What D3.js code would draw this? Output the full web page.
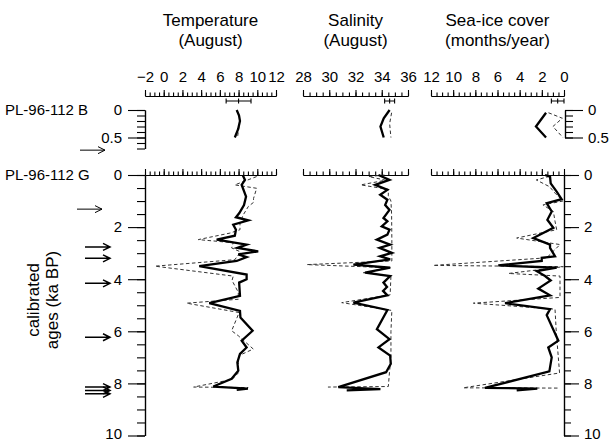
<!DOCTYPE html>
<html>
<head>
<meta charset="utf-8">
<script src="https://cdn.jsdelivr.net/npm/d3@7"></script>
<style>
  body { margin: 0; background: #fff; }
  text { font-family: "Liberation Sans", Arial, Helvetica, sans-serif; fill: #000; }
</style>
</head>
<body>
<script>
var W = 610, H = 443;

// column headings
var titleTop = ["Temperature", "Salinity", "Sea-ice cover"];
var titleSub = ["(August)", "(August)", "(months/year)"];
var tempTicks = [-2, 0, 2, 4, 6, 8, 10, 12];
var salTicks = [28, 30, 32, 34, 36];
var iceTicks = [12, 10, 8, 6, 4, 2, 0];

// PL-96-112 B (box core)
var boxTempAge = [0, 0.1, 0.2, 0.35, 0.5];
var boxTemp = [7.8, 8.05, 8.15, 7.95, 7.6];
var boxTempDashAge = [0.3, 0.48];
var boxTempDash = [8.05, 7.9];
var boxSalAge = [0, 0.15, 0.3, 0.5];
var boxSal = [34.6, 34.15, 33.9, 34.15];
var boxSalDashAge = [0.05, 0.25, 0.5];
var boxSalDash = [34.75, 34.6, 34.7];
var boxIceAge = [0.05, 0.3, 0.5];
var boxIce = [1.62, 2.53, 1.62];
var boxIceDashAge = [0.05, 0.15, 0.3, 0.5];
var boxIceDash = [1.4, 0.15, 1.0, 0.1];
// error bars (centre, half width) for temperature, salinity, sea ice
var errCentre = [8, 34.6, 0.57];
var errHalf = [1.33, 0.38, 0.57];

// PL-96-112 G (gravity core)
var tempAge = [0, 0.19, 0.38, 0.83, 1.15, 1.46, 1.62, 1.74, 1.91, 2.1, 2.33, 2.48, 2.67, 2.8, 2.93, 3.05, 3.15, 3.3, 3.5, 3.82, 4.0, 4.13, 4.64, 4.92, 5.22, 5.47, 5.98, 6.36, 6.62, 6.87, 7.19, 7.51, 7.82, 8.12, 8.2, 8.25];
var tempVal = [8.44, 8.68, 8.33, 8.8, 8.58, 8.08, 7.72, 9.04, 7.43, 7.72, 7.6, 5.66, 8.86, 7.87, 10.1, 7.97, 8.86, 7.8, 3.8, 8.86, 8.86, 8.06, 8.15, 4.87, 8.15, 8.2, 9.5, 8.33, 8.86, 8.15, 7.87, 7.97, 7.26, 5.3, 9.0, 7.8];
var tempDashAge = [0.06, 0.38, 0.51, 0.9, 1.05, 1.21, 1.53, 1.84, 2.1, 2.23, 2.48, 2.6, 2.8, 2.95, 3.25, 3.5, 3.88, 4.05, 4.5, 4.77, 4.92, 5.28, 5.98, 6.17, 6.68, 6.93, 7.2, 7.6, 7.85, 8.14, 8.16];
var tempDash = [9.93, 7.6, 9.93, 9.6, 9.6, 9.04, 8.5, 8.15, 8.15, 7.08, 3.7, 7.43, 7.26, 8.2, 7.6, -0.93, 7.43, 7.3, 7.97, 7.97, 2.45, 8.06, 7.26, 7.97, 9.57, 8.06, 7.97, 7.97, 7.3, 3.2, 9.04];

var salAge = [0, 0.19, 0.38, 0.57, 0.76, 0.95, 1.15, 1.34, 1.65, 1.78, 1.97, 2.1, 2.29, 2.48, 2.67, 2.8, 2.99, 3.12, 3.24, 3.44, 3.56, 3.75, 3.88, 4.13, 4.3, 4.45, 4.62, 4.9, 5.18, 5.92, 6.3, 6.62, 6.93, 7.25, 7.57, 8.14, 8.22, 8.27];
var salVal = [33.75, 34.59, 33.5, 34.43, 33.88, 34.43, 34.26, 34.59, 34.13, 34.43, 34.0, 34.59, 34.43, 33.63, 34.64, 33.83, 34.77, 33.88, 34.64, 31.84, 34.64, 32.73, 34.64, 34.13, 34.4, 34.1, 34.43, 31.84, 34.43, 33.63, 34.59, 33.75, 34.64, 34.69, 34.33, 30.69, 33.9, 31.33];
var salDashAge = [0, 0.06, 0.2, 0.38, 0.55, 0.8, 1.0, 1.5, 2.5, 3.3, 3.44, 3.56, 3.75, 3.88, 4.6, 4.9, 5.2, 6.0, 7.0, 7.57, 8.12, 8.14];
var salDash = [34.2, 33.0, 34.3, 32.4, 34.5, 34.5, 34.7, 34.75, 34.77, 34.77, 28.3, 34.7, 32.6, 34.7, 34.64, 30.95, 34.77, 34.7, 34.7, 34.59, 34.5, 29.9];

var iceAge = [0, 0.06, 0.32, 0.64, 0.93, 1.08, 1.4, 1.72, 2.03, 2.42, 2.67, 2.8, 3.12, 3.18, 3.3, 3.47, 3.56, 3.69, 3.88, 4.05, 4.36, 4.62, 4.92, 5.15, 5.38, 6.36, 6.62, 7.0, 7.54, 8.17, 8.2, 8.27];
var iceVal = [1.71, 1.26, 1.2, 0.66, 0.21, 1.56, 1.11, 1.5, 0.96, 2.77, 1.26, 1.26, 0.81, 2.01, 2.01, 5.93, 0.66, 2.46, 1.71, 1.2, 2.32, 1.26, 5.32, 1.26, 1.56, 0.51, 1.42, 1.11, 1.32, 7.13, 2.41, 4.27];
var iceDashAge = [0.05, 0.19, 0.45, 0.7, 1.0, 1.15, 1.4, 1.8, 2.1, 2.42, 2.67, 3.18, 3.47, 3.52, 3.78, 3.88, 4.7, 4.92, 5.15, 6.0, 7.6, 8.17, 8.18];
var iceDash = [1.3, 2.5, 1.3, 0.8, 0.1, 1.9, 0.96, 0.8, 0.66, 4.27, 0.36, 1.56, 11.8, 0.06, 5.0, 0.36, 0.36, 8.18, 0.81, 0.7, 0.4, 9.1, 0.36];

// arrows marking dated levels
var arrowBoxAge = [0.73];
var arrowThinAge = [1.31];
var arrowAge = [2.76, 3.2, 4.16, 6.23, 8.14, 8.27, 8.4];

var svg = d3.select("body").append("svg").attr("width", W).attr("height", H);

var tx = d3.scaleLinear().domain([-2, 12]).range([145, 276]);
var sx = d3.scaleLinear().domain([28, 36]).range([303, 408]);
var ix = d3.scaleLinear().domain([12, 0]).range([431, 564]);
var xScales = [tx, sx, ix];
var yBox = d3.scaleLinear().domain([0, 0.7]).range([110, 148.5]);
var yBoxR = d3.scaleLinear().domain([0, 0.5]).range([110, 137.5]);
var yMain = d3.scaleLinear().domain([0, 10]).range([175, 435.5]);

function styleAxis(g, size) {
  g.selectAll("path.domain").attr("stroke", "#000").attr("stroke-width", 1.2);
  g.selectAll(".tick line").attr("stroke", "#000").attr("stroke-width", 1.1);
  g.selectAll("text").attr("font-size", size || 15).attr("font-family", null).attr("fill", "#000");
  g.attr("font-family", null);
}

// titles
xScales.forEach(function(sc, i) {
  var cx = (sc.range()[0] + sc.range()[1]) / 2;
  svg.append("text").attr("x", cx).attr("y", 26).attr("text-anchor", "middle")
    .attr("font-size", 17).text(titleTop[i]);
  svg.append("text").attr("x", cx).attr("y", 46).attr("text-anchor", "middle")
    .attr("font-size", 17).text(titleSub[i]);
});

// rulers on top of each panel
var tickSets = [tempTicks, salTicks, iceTicks];
xScales.forEach(function(sc, i) {
  var d = sc.domain(), lo = Math.min(d[0], d[1]), hi = Math.max(d[0], d[1]);
  var minor = d3.range(lo, hi + 0.01, 0.5);
  [96, 175].forEach(function(yy) {
    var g1 = svg.append("g").attr("transform", "translate(0," + yy + ")")
      .call(d3.axisTop(sc).tickValues(minor).tickSize(3.5).tickSizeOuter(0).tickFormat(""));
    styleAxis(g1);
    var ax = d3.axisTop(sc).tickValues(tickSets[i]).tickSize(6).tickSizeOuter(0).tickPadding(8);
    if (yy === 175) ax.tickFormat("");
    var g2 = svg.append("g").attr("transform", "translate(0," + yy + ")").call(ax);
    styleAxis(g2);
  });
});

// box core axes
var gb1 = svg.append("g").attr("transform", "translate(145,0)")
  .call(d3.axisLeft(yBox).tickValues(d3.range(0, 0.71, 0.1)).tickSize(8).tickSizeOuter(0).tickFormat(""));
styleAxis(gb1);
var gb2 = svg.append("g").attr("transform", "translate(145,0)")
  .call(d3.axisLeft(yBox).tickValues([0, 0.5]).tickSize(17).tickSizeOuter(0).tickPadding(6)
    .tickFormat(function(d) { return d === 0 ? "0" : "0.5"; }));
styleAxis(gb2);
var gb3 = svg.append("g").attr("transform", "translate(565,0)")
  .call(d3.axisRight(yBoxR).tickValues(d3.range(0, 0.51, 0.1)).tickSize(8).tickSizeOuter(0).tickFormat(""));
styleAxis(gb3);
var gb4 = svg.append("g").attr("transform", "translate(565,0)")
  .call(d3.axisRight(yBoxR).tickValues([0, 0.5]).tickSize(18).tickSizeOuter(0).tickPadding(5)
    .tickFormat(function(d) { return d === 0 ? "0" : "0.5"; }));
styleAxis(gb4);

// gravity core axes
var gm1 = svg.append("g").attr("transform", "translate(145,0)")
  .call(d3.axisLeft(yMain).tickValues(d3.range(0, 10.01, 0.5)).tickSize(8).tickSizeOuter(0).tickFormat(""));
styleAxis(gm1);
var gm2 = svg.append("g").attr("transform", "translate(145,0)")
  .call(d3.axisLeft(yMain).tickValues(d3.range(0, 10.01, 2)).tickSize(17).tickSizeOuter(0).tickPadding(6));
styleAxis(gm2);
var gm3 = svg.append("g").attr("transform", "translate(564,0)")
  .call(d3.axisRight(yMain).tickValues(d3.range(0, 10.01, 0.5)).tickSize(7).tickSizeOuter(0).tickFormat(""));
styleAxis(gm3);
var gm4 = svg.append("g").attr("transform", "translate(564,0)")
  .call(d3.axisRight(yMain).tickValues(d3.range(0, 10.01, 2)).tickSize(15).tickSizeOuter(0).tickPadding(5));
styleAxis(gm4);
// keep the bottom age labels inside the picture
[gm2, gm4].forEach(function(g) {
  g.selectAll(".tick text").filter(function(d) { return d === 10; }).attr("dy", "0.2em");
});

// core names and axis title
svg.append("text").attr("x", 5).attr("y", 115).attr("font-size", 15).text("PL-96-112 B");
svg.append("text").attr("x", 5).attr("y", 180).attr("font-size", 15).text("PL-96-112 G");
svg.append("text").attr("transform", "translate(39,300) rotate(-90)")
  .attr("text-anchor", "middle").attr("font-size", 17).text("calibrated");
svg.append("text").attr("transform", "translate(58,300) rotate(-90)")
  .attr("text-anchor", "middle").attr("font-size", 17).text("ages (ka BP)");

// error bars
xScales.forEach(function(sc, i) {
  var a = sc(errCentre[i] - errHalf[i]), b = sc(errCentre[i] + errHalf[i]), c = sc(errCentre[i]);
  var p = "M" + a + ",101H" + b +
    "M" + a + ",98.5V103.5M" + b + ",98.5V103.5M" + c + ",98.5V103.5";
  svg.append("path").attr("d", p).attr("fill", "none").attr("stroke", "#000").attr("stroke-width", 1.1);
});

// series
function series(ages, vals, xs, ys, dashed) {
  var line = d3.line().x(function(d) { return xs(d[1]); }).y(function(d) { return ys(d[0]); });
  var p = svg.append("path").datum(d3.zip(ages, vals)).attr("d", line).attr("fill", "none");
  if (dashed) {
    p.attr("stroke", "#333").attr("stroke-width", 1).attr("stroke-dasharray", "3.5,2.5");
  } else {
    p.attr("stroke", "#000").attr("stroke-width", 2.3).attr("stroke-linejoin", "miter");
  }
}

series(tempDashAge, tempDash, tx, yMain, true);
series(tempAge, tempVal, tx, yMain, false);
series(salDashAge, salDash, sx, yMain, true);
series(salAge, salVal, sx, yMain, false);
series(iceDashAge, iceDash, ix, yMain, true);
series(iceAge, iceVal, ix, yMain, false);

series(boxTempDashAge, boxTempDash, tx, yBoxR, true);
series(boxTempAge, boxTemp, tx, yBoxR, false);
series(boxSalDashAge, boxSalDash, sx, yBoxR, true);
series(boxSalAge, boxSal, sx, yBoxR, false);
series(boxIceDashAge, boxIceDash, ix, yBoxR, true);
series(boxIceAge, boxIce, ix, yBoxR, false);

// arrows
function arrow(y, x1, x2, w) {
  svg.append("path")
    .attr("d", "M" + x1 + "," + y + "H" + x2 + "M" + (x2 - 7) + "," + (y - 3.5) + "L" + x2 + "," + y + "L" + (x2 - 7) + "," + (y + 3.5))
    .attr("fill", "none").attr("stroke", "#000").attr("stroke-width", w);
}
arrowBoxAge.forEach(function(a) { arrow(yBoxR(a), 80, 105, 1); });
arrowThinAge.forEach(function(a) { arrow(yMain(a), 77, 102, 1); });
arrowAge.forEach(function(a) { arrow(yMain(a), 85, 110, 1.5); });
</script>
</body>
</html>
